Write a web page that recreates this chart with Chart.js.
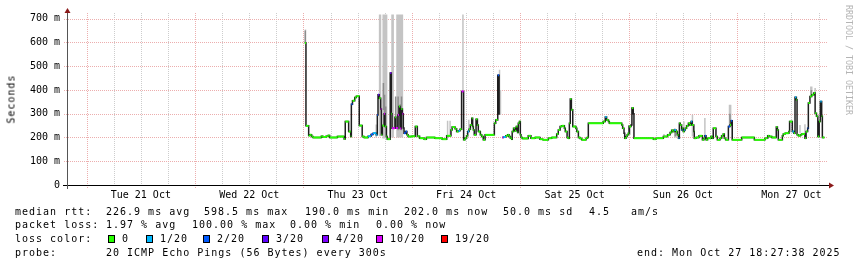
<!DOCTYPE html>
<html>
<head>
<meta charset="utf-8">
<script src="https://cdn.jsdelivr.net/npm/chart.js@4.4.1/dist/chart.umd.min.js"></script>
<style>
body { margin: 0; background: #fff; }
#wrap { position: relative; width: 857px; height: 267px; overflow: hidden;
        font-family: "DejaVu Sans Mono", monospace; font-size: 10px; color: #000; }
#wrap canvas { position: absolute; left: 0; top: 0; }
.t { position: absolute; white-space: pre; letter-spacing: 1px; line-height: 12px; }
.sq { position: absolute; width: 7px; height: 8px; box-sizing: border-box; border: 1px solid #000; }
#ytitle { position: absolute; left: 11px; top: 99px; white-space: pre; letter-spacing: 1px;
          transform: translate(-50%, -50%) rotate(-90deg); }
#brand { position: absolute; left: 844px; top: 5px; writing-mode: vertical-rl; font-size: 8.3px;
         line-height: 9px; color: #b4b4b4; white-space: pre; }
</style>
</head>
<body>
<div id="wrap">
  <canvas id="myChart" width="857" height="267"></canvas>
  <div id="ytitle">Seconds</div>
  <div id="brand">RRDTOOL / TOBI OETIKER</div>

  <div class="t" style="left:15px;top:206px">median rtt:</div>
  <div class="t" style="left:106px;top:206px">226.9 ms avg</div>
  <div class="t" style="left:204px;top:206px">598.5 ms max</div>
  <div class="t" style="left:305px;top:206px">190.0 ms min</div>
  <div class="t" style="left:404px;top:206px">202.0 ms now</div>
  <div class="t" style="left:503px;top:206px">50.0 ms sd</div>
  <div class="t" style="left:589px;top:206px">4.5</div>
  <div class="t" style="left:631px;top:206px">am/s</div>

  <div class="t" style="left:15px;top:219px">packet loss:</div>
  <div class="t" style="left:106px;top:219px">1.97 % avg</div>
  <div class="t" style="left:192px;top:219px">100.00 % max</div>
  <div class="t" style="left:290px;top:219px">0.00 % min</div>
  <div class="t" style="left:376px;top:219px">0.00 % now</div>

  <div class="t" style="left:15px;top:233px">loss color:</div>
  <div id="lossLegend"></div>

  <div class="t" style="left:15px;top:247px">probe:</div>
  <div class="t" style="left:106px;top:247px">20 ICMP Echo Pings (56 Bytes) every 300s</div>
  <div class="t" style="left:637px;top:247px">end: Mon Oct 27 18:27:38 2025</div>
</div>
<script>
// tick labels
const dayLabels = ["Tue 21 Oct", "Wed 22 Oct", "Thu 23 Oct", "Fri 24 Oct", "Sat 25 Oct", "Sun 26 Oct", "Mon 27 Oct"];
const yTickLabels = ["0", "100 m", "200 m", "300 m", "400 m", "500 m", "600 m", "700 m"];

// loss classes (pings lost out of 20)
const lossSteps = [0, 1, 2, 3, 4, 10, 19];
const lossNames = ["0", "1/20", "2/20", "3/20", "4/20", "10/20", "19/20"];
const lossColors = ["#26ff00", "#00b8ff", "#0059ff", "#5e00ff", "#7e00ff", "#dd00ff", "#ff0000"];

// median rtt, hours since Tue 21 Oct 00:00 -> ms (step holds until next hour)
const medianHours = [
  48.3, 48.55, 49.15, 49.45, 49.8, 50.1, 51.95, 52.3, 53.0, 53.45,
  53.8, 55.5, 57.0, 57.25, 58.0, 58.45, 58.6, 58.85, 59.35, 59.7,
  60.35, 61.0, 61.4, 62.3, 62.95, 63.4, 64.1, 64.35, 64.5, 64.75,
  65.1, 65.25, 65.45, 65.85, 66.05, 66.35, 66.55, 67.2, 67.45, 67.6,
  68.25, 68.45, 68.9, 69.15, 69.4, 69.65, 69.9, 70.1, 70.25, 70.6,
  70.9, 71.15, 72.0, 72.75, 73.2, 73.7, 74.7, 75.2, 77.1, 78.7,
  79.7, 80.65, 80.9, 81.55, 81.9, 82.3, 82.65, 83.0, 83.45, 83.75,
  84.1, 84.35, 84.65, 84.95, 85.25, 85.45, 85.6, 85.8, 86.2, 86.5,
  86.7, 87.15, 87.45, 87.8, 88.2, 90.25, 90.55, 91.0, 91.3, 91.45,
  92.0, 92.25, 92.8, 93.2, 93.5, 93.8, 94.1, 94.2, 94.5, 94.8,
  95.1, 95.4, 95.55, 95.8, 96.0, 96.15, 96.45, 97.75, 98.35, 99.25,
  100.35, 101.0, 102.2, 102.95, 104.05, 104.4, 104.8, 105.2, 105.75, 105.95,
  106.35, 106.6, 106.85, 107.05, 107.3, 107.6, 108.3, 108.5, 108.85, 109.2,
  109.6, 110.55, 110.8, 111.05, 114.35, 114.8, 115.1, 115.5, 115.7, 118.45,
  118.65, 118.95, 119.1, 119.4, 119.65, 119.9, 120.1, 120.5, 120.7, 121.0,
  121.15, 125.45, 126.0, 127.65, 128.6, 129.15, 129.5, 129.85, 130.1, 130.45,
  130.75, 131.0, 131.2, 131.4, 131.7, 131.85, 132.05, 132.3, 132.5, 132.8,
  133.2, 133.55, 133.8, 134.05, 134.4, 134.5, 134.9, 135.55, 136.3, 136.65,
  136.85, 137.1, 137.45, 138.2, 138.5, 138.7, 139.3, 139.6, 140.2, 140.55,
  140.9, 141.15, 141.45, 142.05, 142.4, 142.65, 142.9, 145.0, 147.8, 150.15,
  150.75, 151.1, 151.65, 152.65, 152.9, 153.1, 154.0, 154.2, 154.6, 155.45,
  155.6, 156.2, 156.55, 156.8, 157.1, 157.25, 157.55, 158.0, 158.3, 159.0,
  159.25, 159.6, 159.75, 160.1, 160.5, 160.95, 161.25, 161.55, 161.85, 162.15,
  162.4, 162.7, 162.85, 163.3
];
const medianMs = [
  598, 249, 208, 212, 204, 200, 205, 202, 205, 208,
  200, 204, 194, 267, 225, 204, 340, 355, 368, 374,
  250, 204, 200, 205, 213, 218, 212, 295, 380, 365,
  320, 211, 250, 300, 246, 204, 193, 471, 300, 239,
  285, 240, 295, 330, 238, 320, 300, 240, 218, 225,
  211, 204, 205, 246, 205, 197, 193, 200, 197, 193,
  207, 232, 244, 237, 225, 228, 235, 394, 190, 197,
  207, 225, 235, 253, 281, 246, 232, 211, 277, 253,
  225, 211, 204, 190, 211, 260, 274, 462, 296, null,
  200, 202, 207, 211, 204, 197, 193, 225, 239, 228,
  246, 221, 260, 267, 211, 200, 196, 207, 197, 200,
  193, 190, 197, 200, 215, 232, 246, 249, 239, 225,
  200, 197, 260, 362, 317, 246, 239, 225, 200, 196,
  190, 197, 200, 260, 267, 286, 274, 267, 260, 253,
  239, 218, 197, 204, 211, 218, 246, 253, 324, 300,
  197, 193, 197, 204, 211, 221, 230, 225, 232, 225,
  211, 197, 260, 253, 232, 239, 225, 232, 239, 249,
  260, 253, 267, 253, 225, 197, 200, 207, 190, 197,
  207, 190, 197, 204, 197, 239, 204, 190, 197, 207,
  215, 197, 190, 246, 253, 270, 190, 200, 190, 197,
  207, 204, 200, 244, 232, 190, 207, 215, 218, 225,
  267, 225, 218, 369, 359, 211, 207, 211, 215, 197,
  225, 239, 345, 373, 380, 387, 302, 289, 204, 267,
  352, 289, 200, 200
];

// steps where some pings were lost
const lossHours = [58.6, 62.3, 62.95, 63.4, 64.1, 64.35, 64.5, 65.1, 65.85, 67.2,
  67.6, 68.45, 68.9, 69.4, 69.9, 70.25, 70.6, 82.3, 83.0, 84.35,
  91.0, 91.3, 92.0, 92.25, 114.8, 130.1, 131.0, 131.7, 132.3, 133.8,
  136.85, 142.05, 142.65, 156.2, 156.8, 159.6, 162.4];
const lossLevel = [2, 1, 2, 1, 1, 2, 3, 10, 10, 4,
  10, 10, 10, 10, 10, 2, 2, 1, 10, 1,
  2, 3, 10, 1, 1, 1, 1, 1, 1, 1,
  2, 2, 2, 1, 1, 2, 1];

// smoke: full spread of the pings
const smokeHours = [48.45, 64.1, 64.85, 65.05, 65.65, 65.9, 66.15, 66.4, 67.6, 67.85,
  68.7, 68.95, 69.2, 69.45, 69.7, 69.9, 79.9, 80.45, 83.3, 84.6,
  91.4, 91.6, 120.0, 120.3, 127.8, 130.2, 130.45, 132.2, 134.1, 136.85,
  142.3, 142.55, 157.9, 159.0, 160.3, 160.5, 161.25];
const smokeLow = [598, 200, 205, 205, 196, 196, 196, 196, 200, 200,
  200, 200, 200, 200, 200, 200, 205, 205, 394, 235,
  296, 296, 211, 211, 204, 200, 200, 239, 204, 204,
  246, 246, 218, 200, 373, 380, 387];
const smokeHigh = [655, 255, 718, 718, 718, 718, 718, 718, 718, 718,
  718, 718, 718, 718, 718, 718, 270, 270, 718, 275,
  485, 400, 253, 253, 215, 239, 235, 267, 296, 282,
  338, 338, 253, 256, 415, 415, 408];
// dense core of the smoke
const coreHours = [48.4, 65.7, 65.95, 66.2, 68.4, 68.95, 69.2, 69.45, 69.7, 120.1, 130.3, 142.4, 160.4];
const coreLow = [598, 316, 300, 250, 240, 230, 250, 240, 230, 211, 205, 250, 380];
const coreHigh = [650, 429, 380, 330, 372, 372, 330, 340, 372, 253, 230, 300, 400];

// legend squares
const legendLeft = [108, 146, 203, 262, 322, 376, 441];
const lossLegend = document.getElementById("lossLegend");
lossNames.forEach(function (name, i) {
  const sq = document.createElement("div");
  sq.className = "sq";
  sq.style.left = legendLeft[i] + "px";
  sq.style.top = "235px";
  sq.style.background = lossColors[i];
  lossLegend.appendChild(sq);
  const lab = document.createElement("div");
  lab.className = "t";
  lab.style.left = (legendLeft[i] + 14) + "px";
  lab.style.top = "233px";
  lab.textContent = name;
  lossLegend.appendChild(lab);
});

function lossColor(h) {
  const k = lossHours.indexOf(h);
  const level = k < 0 ? 0 : lossLevel[k];
  return lossColors[lossSteps.indexOf(level)];
}

// stepped median (dark connectors)
const stepPoints = medianHours.map(function (h, i) { return { x: h, y: medianMs[i] }; });

// flat parts of the median, coloured by loss
const flatPoints = [];
const flatColors = [];
for (let i = 0; i < medianHours.length - 1; i++) {
  const v = medianMs[i];
  if (v == null) continue;
  flatPoints.push({ x: medianHours[i], y: v }, { x: medianHours[i + 1], y: v }, { x: medianHours[i + 1], y: null });
  flatColors.push(lossColor(medianHours[i]), null, null);
}

function rangePoints(hours, lo, hi) {
  const pts = [];
  hours.forEach(function (h, i) {
    pts.push({ x: h, y: lo[i] }, { x: h, y: hi[i] }, { x: h, y: null });
  });
  return pts;
}

const MAJOR = "#ecaeae";
const MINOR = "#cdcdcd";

// dotted rrdtool-style grid, drawn from the scales' ticks
const gridPlugin = {
  id: "rrdGrid",
  beforeDatasetsDraw: function (chart) {
    const c = chart.ctx;
    const a = chart.chartArea;
    const xs = chart.scales.x;
    const ys = chart.scales.y;
    c.save();
    c.lineWidth = 1;
    c.setLineDash([1, 1]);
    xs.ticks.forEach(function (t) {
      const major = t.value % 24 === 0;
      const px = Math.round(xs.getPixelForValue(t.value)) + 0.5;
      c.strokeStyle = major ? MAJOR : MINOR;
      c.beginPath();
      c.moveTo(px, a.top);
      c.lineTo(px, a.bottom + (major ? 3 : 1));
      c.stroke();
    });
    ys.ticks.forEach(function (t) {
      if (t.value === 0) return;
      const major = t.value % 100 === 0;
      const py = Math.round(ys.getPixelForValue(t.value)) + 0.5;
      c.strokeStyle = major ? MAJOR : MINOR;
      c.beginPath();
      c.moveTo(a.left - (major ? 3 : 1), py);
      c.lineTo(a.right, py);
      c.stroke();
    });
    c.restore();
  }
};

// axis lines and arrows like rrdtool
const axisPlugin = {
  id: "rrdAxes",
  afterDraw: function (chart) {
    const c = chart.ctx;
    const a = chart.chartArea;
    c.save();
    c.lineWidth = 1;
    c.strokeStyle = "#000";
    c.beginPath();
    c.moveTo(a.left - 4, a.bottom + 0.5);
    c.lineTo(a.right + 2, a.bottom + 0.5);
    c.stroke();
    c.strokeStyle = "#555";
    c.beginPath();
    c.moveTo(a.left + 0.5, a.top - 3);
    c.lineTo(a.left + 0.5, a.bottom + 4);
    c.stroke();
    c.fillStyle = "#8b1a1a";
    c.beginPath();
    c.moveTo(a.left + 0.5, a.top - 5);
    c.lineTo(a.left - 2.5, a.top);
    c.lineTo(a.left + 3.5, a.top);
    c.closePath();
    c.fill();
    c.beginPath();
    c.moveTo(a.right + 6, a.bottom + 0.5);
    c.lineTo(a.right + 1, a.bottom - 2.5);
    c.lineTo(a.right + 1, a.bottom + 3.5);
    c.closePath();
    c.fill();
    c.restore();
  }
};

new Chart("myChart", {
  type: "line",
  data: {
    datasets: [
      { data: rangePoints(smokeHours, smokeLow, smokeHigh), borderColor: "#c4c4c4", borderWidth: 1.5, order: 4 },
      { data: rangePoints(coreHours, coreLow, coreHigh), borderColor: "#8c8c8c", borderWidth: 1.5, order: 3 },
      { data: stepPoints, stepped: "before", borderColor: "#1e1e1e", borderWidth: 1.5, order: 2 },
      { data: flatPoints, borderWidth: 2, order: 1, borderColor: lossColors[0],
        segment: { borderColor: function (ctx) { return flatColors[ctx.p0DataIndex] || lossColors[0]; } } }
    ]
  },
  options: {
    responsive: false,
    animation: false,
    events: [],
    elements: { point: { radius: 0 }, line: { tension: 0, borderCapStyle: "butt" } },
    layout: { padding: { left: 0, right: 29, top: 13, bottom: 62 } },
    plugins: { legend: { display: false }, tooltip: { enabled: false } },
    scales: {
      x: {
        type: "linear",
        min: -4.34,
        max: 164.1,
        afterBuildTicks: function (scale) {
          const t = [];
          for (let h = 0; h <= 162; h += 6) t.push({ value: h });
          scale.ticks = t;
        },
        afterFit: function (scale) { scale.height = 20; },
        grid: { display: false, drawTicks: false },
        border: { display: false },
        ticks: {
          autoSkip: false,
          maxRotation: 0,
          minRotation: 0,
          padding: 4,
          color: "#000",
          font: { family: "DejaVu Sans Mono", size: 10 },
          callback: function (v) { return v % 24 === 12 ? dayLabels[(v - 12) / 24] : ""; }
        }
      },
      y: {
        min: 0,
        max: 724,
        afterBuildTicks: function (scale) {
          const t = [];
          for (let v = 0; v <= 700; v += 50) t.push({ value: v });
          scale.ticks = t;
        },
        afterFit: function (scale) { scale.width = 67; },
        grid: { display: false, drawTicks: false },
        border: { display: false },
        ticks: {
          padding: 7,
          color: "#000",
          font: { family: "DejaVu Sans Mono", size: 10 },
          callback: function (v) { return v % 100 === 0 ? yTickLabels[v / 100] : ""; }
        }
      }
    }
  },
  plugins: [gridPlugin, axisPlugin]
});
</script>
</body>
</html>
